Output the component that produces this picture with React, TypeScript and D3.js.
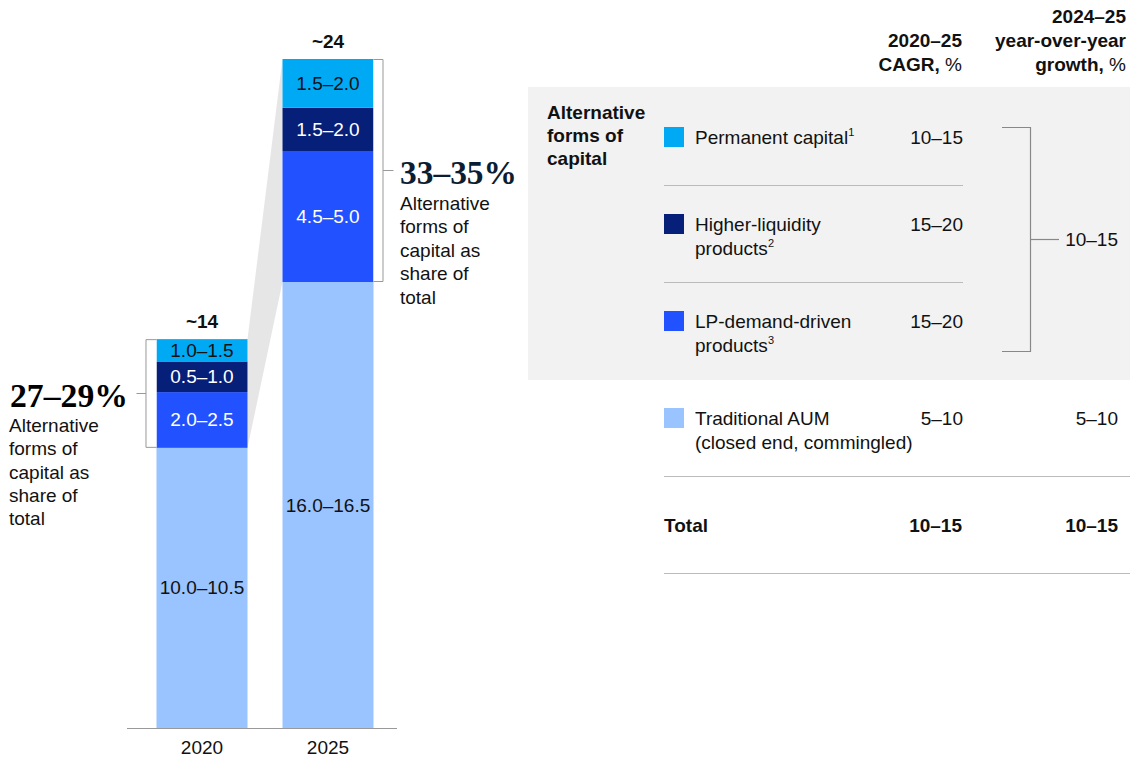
import React from "react";
import * as d3 from "d3";

// ---------- data ----------
const years = ["2020", "2025"];
const segments = ["Traditional AUM", "LP-demand-driven products", "Higher-liquidity products", "Permanent capital"];
const values2020 = [10.05, 2.0, 1.1, 0.8];
const values2025 = [16.0, 4.7, 1.55, 1.75];
const labels2020 = ["10.0–10.5", "2.0–2.5", "0.5–1.0", "1.0–1.5"];
const labels2025 = ["16.0–16.5", "4.5–5.0", "1.5–2.0", "1.5–2.0"];
const totals = ["~14", "~24"];
const shareLabels = ["27–29%", "33–35%"];
const shareText = ["Alternative", "forms of", "capital as", "share of", "total"];

const legendLines = [
  ["Permanent capital"],
  ["Higher-liquidity", "products"],
  ["LP-demand-driven", "products"],
  ["Traditional AUM", "(closed end, commingled)"],
];
const legendColorIndex = [3, 2, 1, 0];
const footnotes = ["1", "2", "3", ""];
const cagrValues = ["10–15", "15–20", "15–20", "5–10"];
const yoyAlternative = "10–15";
const yoyTraditional = "5–10";
const totalCagr = "10–15";
const totalYoy = "10–15";

const colors = ["#99C4FF", "#2251FF", "#061F79", "#00A9F4"];
const labelColors = ["#111", "#fff", "#fff", "#111"];

const FONT = "'Liberation Sans', Arial, sans-serif";
const SERIF = "'Liberation Serif', 'DejaVu Serif', serif";
const TXT = "#111";

export default function App() {
  const y = d3.scaleLinear().domain([0, 24]).range([728, 59]);
  const x = d3.scaleBand().domain(years).range([130, 400]).paddingInner(0.2778).paddingOuter(0.2103);
  const bw = x.bandwidth();
  const seriesVals = [values2020, values2025];
  const seriesLabels = [labels2020, labels2025];

  const stacks = seriesVals.map((vals) => {
    let acc = 0;
    return vals.map((v) => {
      const s = { y0: acc, y1: acc + v };
      acc += v;
      return s;
    });
  });

  const x0 = x(years[0])!;
  const x1 = x(years[1])!;
  const top0 = y(d3.sum(values2020));
  const top1 = y(d3.sum(values2025));
  const alt0 = y(values2020[0]);
  const alt1 = y(values2025[0]);

  const wedge = d3.line()([
    [x0 + bw, top0],
    [x1, top1],
    [x1, alt1],
    [x0 + bw, alt0],
  ]) + "Z";

  const rowTop = [127, 214, 311, 408];
  const colCagr = 962;
  const colYoy = 1118;

  return (
    <svg width={1138} height={758} style={{ position: "absolute", left: 0, top: 0 }} fontFamily={FONT}>
      <rect width={1138} height={758} fill="#fff" />
      {/* wedge */}
      <path d={wedge} fill="#e6e6e6" />
      {/* bars */}
      {years.map((yr, i) => (
        <g key={yr}>
          {stacks[i].map((s, j) => (
            <g key={j}>
              <rect x={x(yr)} y={y(s.y1)} width={bw} height={y(s.y0) - y(s.y1)} fill={colors[j]} />
              <text
                x={x(yr)! + bw / 2}
                y={(y(s.y0) + y(s.y1)) / 2 + 6.5}
                textAnchor="middle"
                fontSize={19}
                fill={labelColors[j]}
              >
                {seriesLabels[i][j]}
              </text>
            </g>
          ))}
          <text x={x(yr)! + bw / 2} y={y(d3.sum(seriesVals[i])) - 11} textAnchor="middle" fontSize={19} fontWeight="bold" fill={TXT}>
            {totals[i]}
          </text>
          <text x={x(yr)! + bw / 2} y={754} textAnchor="middle" fontSize={19} fill={TXT}>
            {yr}
          </text>
        </g>
      ))}
      {/* axis baseline */}
      <line x1={127} x2={397} y1={y(0) + 0.5} y2={y(0) + 0.5} stroke="#999" strokeWidth={1} />

      {/* left bracket 2020 */}
      <path d={`M${x0},${top0 + 0.5}H${x0 - 10.5}V${alt0 - 0.5}H${x0}`} fill="#fff" stroke="#999" strokeWidth={1} />
      <line x1={x0 - 10.5} x2={x0 - 20} y1={(top0 + alt0) / 2} y2={(top0 + alt0) / 2} stroke="#999" />
      <text x={10} y={407} fontFamily={SERIF} fontSize={34} fontWeight="bold" fill="#000" textLength={118} lengthAdjust="spacingAndGlyphs">{shareLabels[0]}</text>
      {shareText.map((t, k) => (
        <text key={k} x={9} y={431.7 + k * 23.4} fontSize={19} fill={TXT}>{t}</text>
      ))}

      {/* right bracket 2025 */}
      <path d={`M${x1 + bw},${top1 + 0.5}H${x1 + bw + 9.5}V${alt1 - 0.5}H${x1 + bw}`} fill="#fff" stroke="#999" strokeWidth={1} />
      <line x1={x1 + bw + 9.5} x2={x1 + bw + 20} y1={(top1 + alt1) / 2} y2={(top1 + alt1) / 2} stroke="#999" />
      <text x={400} y={184} fontFamily={SERIF} fontSize={33} fontWeight="bold" fill="#0b1d33" textLength={117} lengthAdjust="spacingAndGlyphs">{shareLabels[1]}</text>
      {shareText.map((t, k) => (
        <text key={k} x={400} y={210 + k * 23.4} fontSize={19} fill={TXT}>{t}</text>
      ))}

      {/* table headers */}
      <g fontSize={19} fill={TXT} textAnchor="end">
        <text x={colCagr} y={47} fontWeight="bold">2020–25</text>
        <text x={colCagr} y={71}><tspan fontWeight="bold">CAGR,</tspan> %</text>
        <text x={1126} y={23} fontWeight="bold">2024–25</text>
        <text x={1126} y={47} fontWeight="bold">year-over-year</text>
        <text x={1126} y={71}><tspan fontWeight="bold">growth,</tspan> %</text>
      </g>

      {/* panel */}
      <rect x={528} y={87} width={602} height={293} fill="#f2f2f2" />
      <g fontSize={19} fontWeight="bold" fill={TXT}>
        <text x={547} y={119}>Alternative</text>
        <text x={547} y={142}>forms of</text>
        <text x={547} y={165}>capital</text>
      </g>

      {/* rows */}
      {legendLines.map((lines, i) => (
        <g key={i}>
          <rect x={664} y={rowTop[i]} width={20} height={20} fill={colors[legendColorIndex[i]]} />
          {lines.map((ln, k) => (
            <text key={k} x={695} y={rowTop[i] + 17 + k * 23.5} fontSize={19} fill={TXT}>
              {ln}
              {k === lines.length - 1 && footnotes[i] ? (
                <tspan fontSize={11} dy={-8}>{footnotes[i]}</tspan>
              ) : null}
            </text>
          ))}
          <text x={colCagr + 1} y={rowTop[i] + 17} fontSize={19} fill={TXT} textAnchor="end">{cagrValues[i]}</text>
        </g>
      ))}
      {/* dividers */}
      <line x1={664} x2={963} y1={185.5} y2={185.5} stroke="#bbb" />
      <line x1={664} x2={963} y1={282.5} y2={282.5} stroke="#bbb" />
      <line x1={664} x2={1130} y1={476.5} y2={476.5} stroke="#bbb" />
      <line x1={664} x2={1130} y1={573.5} y2={573.5} stroke="#bbb" />

      {/* group bracket */}
      <path d="M1002,127.5H1030.5V351.5H1002" fill="none" stroke="#888" strokeWidth={1.2} />
      <line x1={1030.5} x2={1059} y1={239.5} y2={239.5} stroke="#888" strokeWidth={1.2} />
      <text x={colYoy} y={246} fontSize={19} fill={TXT} textAnchor="end">{yoyAlternative}</text>
      <text x={colYoy} y={425} fontSize={19} fill={TXT} textAnchor="end">{yoyTraditional}</text>

      {/* total */}
      <g fontSize={19} fontWeight="bold" fill={TXT}>
        <text x={664} y={532}>Total</text>
        <text x={colCagr} y={532} textAnchor="end">{totalCagr}</text>
        <text x={colYoy} y={532} textAnchor="end">{totalYoy}</text>
      </g>
    </svg>
  );
}
